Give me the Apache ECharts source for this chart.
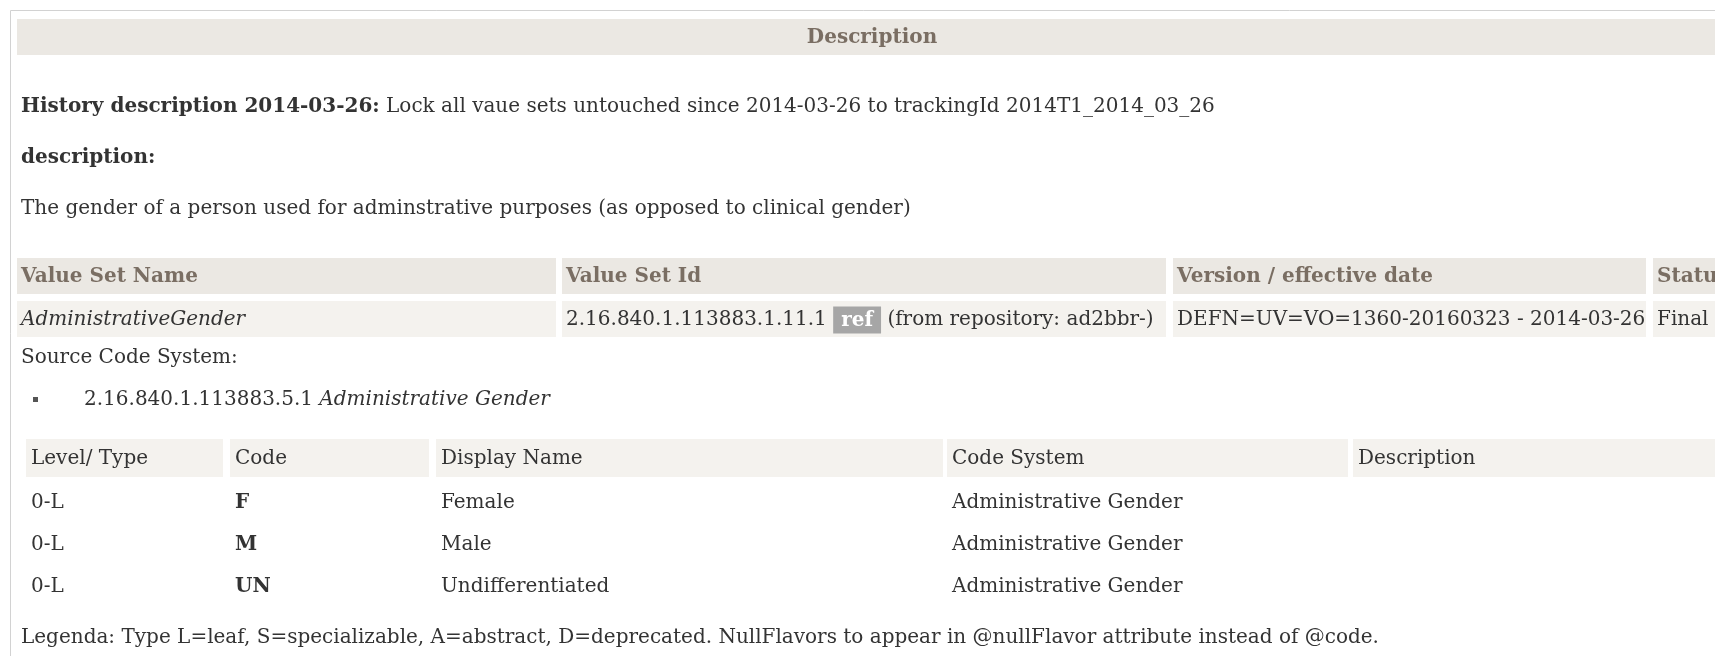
<!DOCTYPE html>
<html><head><meta charset="utf-8">
<script src="https://cdn.jsdelivr.net/npm/echarts@6/dist/echarts.min.js"></script>
<style>html,body{margin:0;padding:0;background:#fff;overflow:hidden}#c{width:1715px;height:656px}</style>
</head><body><div id="c"></div>
<script>
// ---- content ----
const sectionTitle = 'Description';
const historyLabel = 'History description 2014-03-26:';
const historyText = ' Lock all vaue sets untouched since 2014-03-26 to trackingId 2014T1_2014_03_26';
const descLabel = 'description:';
const descText = 'The gender of a person used for adminstrative purposes (as opposed to clinical gender)';
const vsHeaders = ['Value Set Name', 'Value Set Id', 'Version / effective date', 'Status'];
const vsName = 'AdministrativeGender';
const vsId = '2.16.840.1.113883.1.11.1';
const vsRefBadge = 'ref';
const vsRepository = '(from repository: ad2bbr-)';
const vsVersion = 'DEFN=UV=VO=1360-20160323 - 2014-03-26';
const vsStatus = 'Final';
const sourceLabel = 'Source Code System:';
const sourceOid = '2.16.840.1.113883.5.1';
const sourceName = 'Administrative Gender';
const conceptHeaders = ['Level/ Type', 'Code', 'Display Name', 'Code System', 'Description'];
const conceptLevels = ['0-L', '0-L', '0-L'];
const conceptCodes = ['F', 'M', 'UN'];
const conceptNames = ['Female', 'Male', 'Undifferentiated'];
const conceptSystems = ['Administrative Gender', 'Administrative Gender', 'Administrative Gender'];
const legendText = 'Legenda: Type L=leaf, S=specializable, A=abstract, D=deprecated. NullFlavors to appear in @nullFlavor attribute instead of @code.';

// ---- layout / style ----
const FONT = '"DejaVu Serif", serif';
const FS = 20;
const TXT = '#333333';
const HEAD_TXT = '#7a6e63';
const BAR = '#ebe8e3';
const ROW = '#f4f2ee';

function font(size, weight, style) {
  return (style || 'normal') + ' ' + (weight || 'normal') + ' ' + size + 'px ' + FONT;
}
const els = [];
function rect(x, y, w, h, fill, stroke) {
  els.push({type: 'rect', silent: true, shape: {x, y, width: w, height: h},
    style: stroke ? {fill: 'none', stroke, lineWidth: 1} : {fill}});
}
function text(x, y, str, opts) {
  opts = opts || {};
  els.push({type: 'text', silent: true, style: Object.assign({
    x, y, text: str, fill: TXT, font: font(FS, opts.weight, opts.style),
    textAlign: opts.align || 'left', textVerticalAlign: 'middle'
  }, opts.extra || {})});
}

// outer frame
rect(10.5, 10.5, 2000, 1000, null, '#d2d2d2');

// Description title bar
rect(17, 19, 2000, 36, BAR);
text(872, 38, sectionTitle, {weight: 'bold', align: 'center', extra: {fill: HEAD_TXT}});

// history / description
text(21, 107, '{b|' + historyLabel + '}{n|' + historyText + '}', {extra: {rich: {
  b: {font: font(FS, 'bold'), fill: TXT}, n: {font: font(FS), fill: TXT}}}});
text(21, 158, descLabel, {weight: 'bold'});
text(21, 209, descText);

// value set table
const vsCols = [17, 562, 1173, 1653];
const vsColEnd = [556, 1166, 1646, 2000];
vsHeaders.forEach((h, i) => {
  rect(vsCols[i], 258, vsColEnd[i] - vsCols[i], 36, BAR);
  rect(vsCols[i], 301, vsColEnd[i] - vsCols[i], 36, ROW);
  text(vsCols[i] + 4, 277, h, {weight: 'bold', extra: {fill: HEAD_TXT}});
});
text(vsCols[0] + 4, 320, vsName, {style: 'italic'});
text(vsCols[1] + 4, 320, '{n|' + vsId + ' }{r|' + vsRefBadge + '}{n| ' + vsRepository + '}', {extra: {rich: {
  n: {font: font(FS), fill: TXT},
  r: {font: font(FS, 'bold'), fill: '#ffffff', backgroundColor: '#a6a6a6', padding: [4, 8, 3, 8]}
}}});
text(vsCols[2] + 4, 320, vsVersion);
text(vsCols[3] + 4, 320, vsStatus);

// source code system
text(21, 358, sourceLabel);
rect(33, 397, 5, 5, '#555555');
text(84, 400, '{n|' + sourceOid + ' }{i|' + sourceName + '}', {extra: {rich: {
  n: {font: font(FS), fill: TXT}, i: {font: font(FS, 'normal', 'italic'), fill: TXT}}}});

// concept table
const cCols = [26, 230, 436, 947, 1353];
const cColEnd = [223, 429, 943, 1348, 2000];
conceptHeaders.forEach((h, i) => {
  rect(cCols[i], 439, cColEnd[i] - cCols[i], 38, ROW);
  text(cCols[i] + 5, 459, h);
});
const rowY = [503, 545, 587];
conceptCodes.forEach((c, r) => {
  text(cCols[0] + 5, rowY[r], conceptLevels[r]);
  text(cCols[1] + 5, rowY[r], c, {weight: 'bold'});
  text(cCols[2] + 5, rowY[r], conceptNames[r]);
  text(cCols[3] + 5, rowY[r], conceptSystems[r]);
});

text(21, 638, legendText);

const chart = echarts.init(document.getElementById('c'), null, {renderer: 'canvas'});
chart.setOption({backgroundColor: '#ffffff', animation: false, graphic: {elements: els}});
</script>
</body></html>
